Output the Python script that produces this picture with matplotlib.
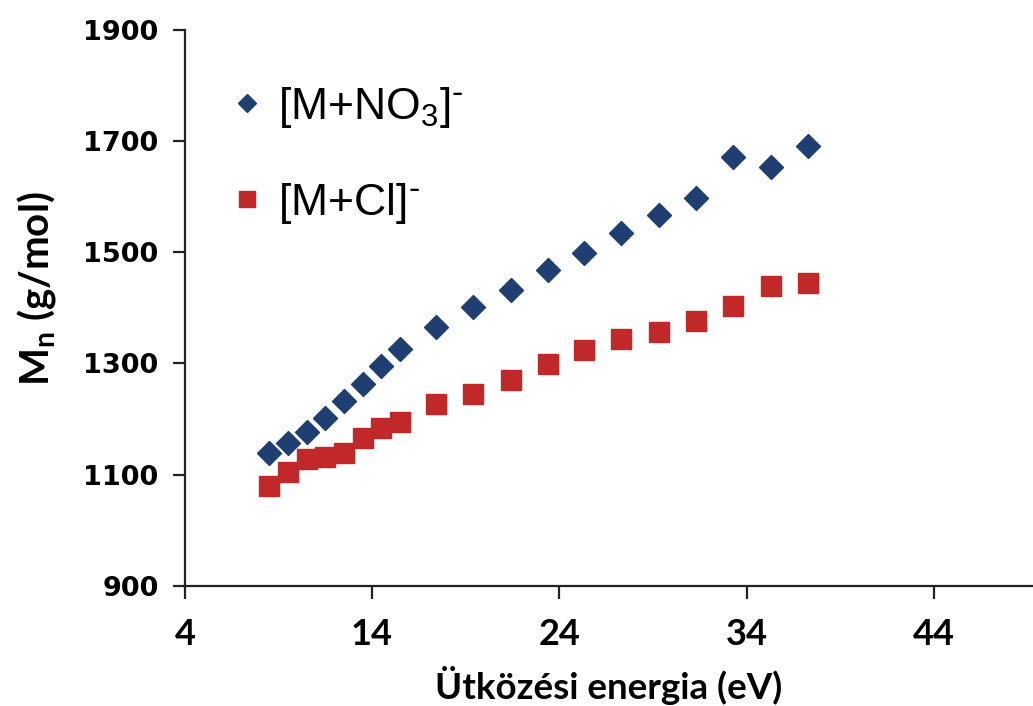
import matplotlib
matplotlib.use('Agg')
import matplotlib.pyplot as plt

# 碰撞能量 (eV)
energy = [8.5, 9.5, 10.5, 11.5, 12.5, 13.5, 14.5, 15.5, 17.4, 19.4,
          21.4, 23.4, 25.3, 27.3, 29.3, 31.3, 33.3, 35.3, 37.3]
# [M+NO3]- 的 Mn
mn_no3 = [1139, 1157, 1177, 1202, 1232, 1263, 1295, 1326, 1365, 1401,
          1432, 1468, 1498, 1534, 1567, 1597, 1671, 1653, 1691]
# [M+Cl]- 的 Mn
mn_cl = [1080, 1105, 1128, 1132, 1139, 1166, 1184, 1195, 1227, 1245,
         1270, 1299, 1324, 1344, 1356, 1376, 1403, 1439, 1444]

x_ticks = [4, 14, 24, 34, 44]
y_ticks = [900, 1100, 1300, 1500, 1700, 1900]

fig = plt.figure(figsize=(10.33, 7.06), dpi=100)
ax = fig.add_axes([0.179, 0.170, 0.821, 0.788])

ax.plot(energy, mn_no3, linestyle='none', marker='D', markersize=12,
        color='#1f3f73', label=r'[M+NO$_\mathregular{3}$]$^{\text{-}}$')
ax.plot(energy, mn_cl, linestyle='none', marker='s', markersize=15,
        color='#c0282a', label=r'[M+Cl]$^{\text{-}}$')

ax.set_xlim(4, 49.3)
ax.set_ylim(900, 1900)

for s in ['top', 'right']:
    ax.spines[s].set_visible(False)
for s in ['left', 'bottom']:
    ax.spines[s].set_linewidth(1.6)
    ax.spines[s].set_color('#222222')
ax.tick_params(direction='out', length=9, width=1.6, color='#222222')
ax.tick_params(axis='x', pad=14)
ax.tick_params(axis='y', pad=10)

ax.set_xticks(x_ticks, labels=[str(v) for v in x_ticks],
              fontfamily='Lato', fontweight='bold', fontsize=26)
ax.set_yticks(y_ticks, labels=[str(v) for v in y_ticks],
              fontfamily='DejaVu Sans', fontweight='bold', fontsize=19.5)

ax.set_xlabel('Ütközési energia (eV)', fontfamily='Lato', fontweight='bold',
              fontsize=26.5, labelpad=11)
ax.set_ylabel(r'M$_\mathregular{n}$ (g/mol)', fontfamily='Lato', fontweight='bold',
              fontsize=29, labelpad=18)
ax.yaxis.label.set_y(0.535)

leg = ax.legend(loc='upper left', bbox_to_anchor=(0.0, 0.973), frameon=False,
                prop={'family': 'Liberation Sans', 'size': 32},
                handletextpad=0.2, labelspacing=1.15, markerscale=0.8,
                handlelength=1.0)

fig.savefig('out.png', dpi=100)
